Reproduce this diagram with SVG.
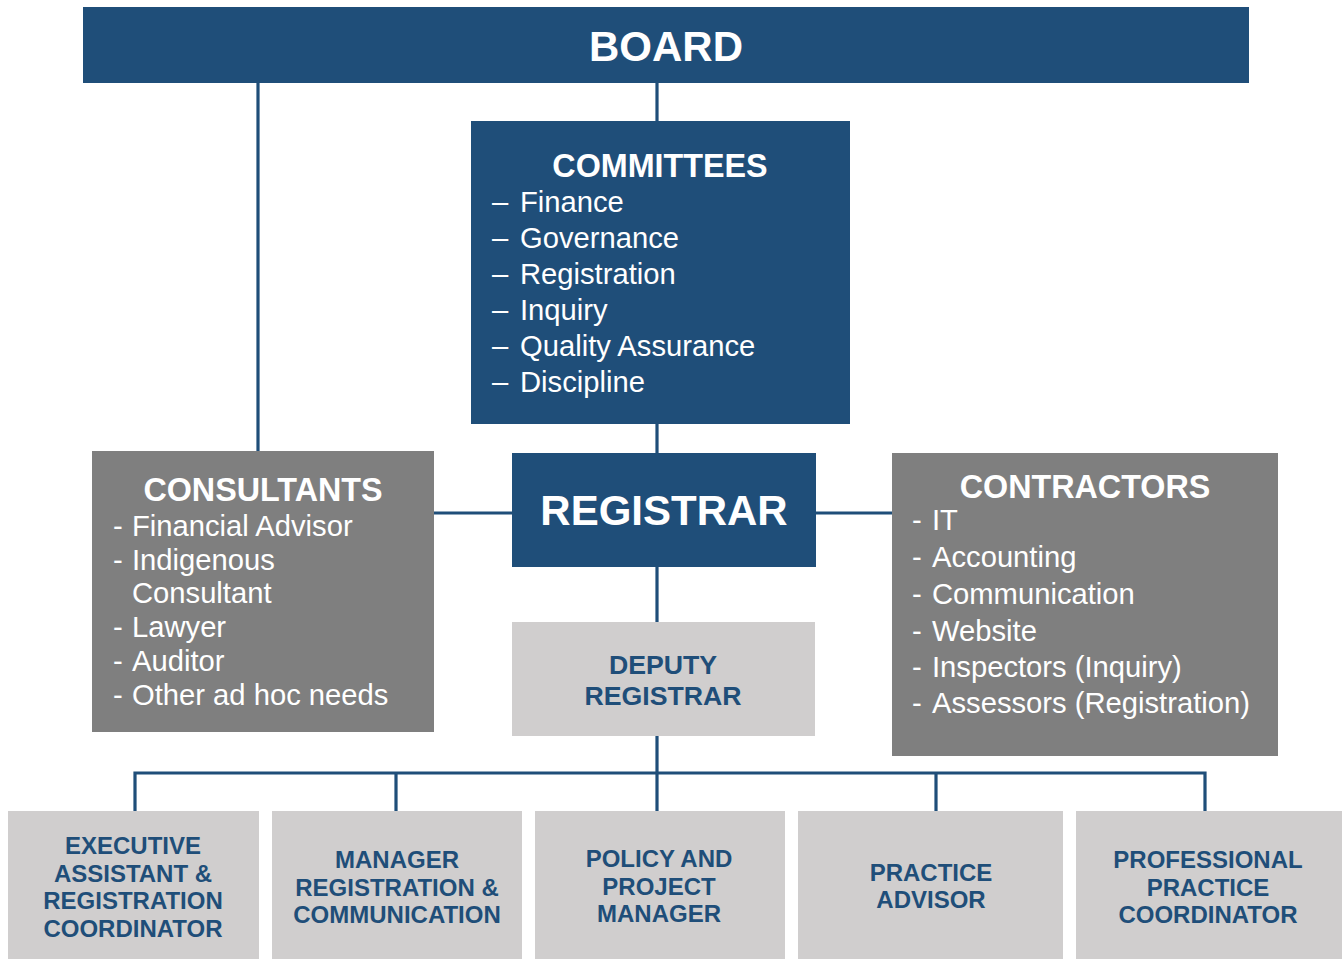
<svg xmlns="http://www.w3.org/2000/svg" width="1342" height="959" viewBox="0 0 1342 959">
  <style>
    text { font-family: "Liberation Sans", Arial, sans-serif; }
    .dark { fill: #1F4E79; }
    .mid { fill: #7F7F7F; }
    .light { fill: #D0CECE; }
    .title { fill: #FFFFFF; font-weight: bold; text-anchor: middle; }
    .head { font-size: 32.3px; }
    .item { fill: #FFFFFF; font-size: 29.2px; }
    .role { fill: #1F4E79; font-weight: bold; font-size: 24px; text-anchor: middle; }
    .role-lg { font-size: 26.7px; }
    .wire { stroke: #1F4E79; stroke-width: 3.2; fill: none; }
  </style>
  <rect width="1342" height="959" fill="#FFFFFF"/>

  <!-- reporting lines -->
  <g id="connectors" class="wire">
    <line x1="258" y1="83" x2="258" y2="451"/>
    <line x1="657" y1="83" x2="657" y2="121"/>
    <line x1="657" y1="424" x2="657" y2="453"/>
    <line x1="434" y1="513" x2="512" y2="513"/>
    <line x1="816" y1="513" x2="892" y2="513"/>
    <line x1="657" y1="567" x2="657" y2="622"/>
    <line x1="657" y1="736" x2="657" y2="811"/>
    <polyline points="135,811 135,773 1205,773 1205,811"/>
    <line x1="396" y1="773" x2="396" y2="811"/>
    <line x1="936" y1="773" x2="936" y2="811"/>
  </g>

  <g id="board">
    <rect class="dark" x="83" y="7" width="1166" height="76"/>
    <text class="title" x="666" y="61" font-size="42">BOARD</text>
  </g>

  <g id="committees">
    <rect class="dark" x="471" y="121" width="379" height="303"/>
    <text class="title head" x="660" y="177">COMMITTEES</text>
    <g class="item">
      <text x="492" y="212">–</text><text x="520" y="212">Finance</text>
      <text x="492" y="248">–</text><text x="520" y="248">Governance</text>
      <text x="492" y="284">–</text><text x="520" y="284">Registration</text>
      <text x="492" y="320">–</text><text x="520" y="320">Inquiry</text>
      <text x="492" y="356">–</text><text x="520" y="356">Quality Assurance</text>
      <text x="492" y="392">–</text><text x="520" y="392">Discipline</text>
    </g>
  </g>

  <g id="consultants">
    <rect class="mid" x="92" y="451" width="342" height="281"/>
    <text class="title head" x="263" y="501">CONSULTANTS</text>
    <g class="item">
      <text x="113" y="536">-</text><text x="132" y="536">Financial Advisor</text>
      <text x="113" y="570">-</text><text x="132" y="570">Indigenous</text>
      <text x="132" y="603">Consultant</text>
      <text x="113" y="637">-</text><text x="132" y="637">Lawyer</text>
      <text x="113" y="671">-</text><text x="132" y="671">Auditor</text>
      <text x="113" y="705">-</text><text x="132" y="705">Other ad hoc needs</text>
    </g>
  </g>

  <g id="registrar">
    <rect class="dark" x="512" y="453" width="304" height="114"/>
    <text class="title" x="664" y="525" font-size="42">REGISTRAR</text>
  </g>

  <g id="contractors">
    <rect class="mid" x="892" y="453" width="386" height="303"/>
    <text class="title head" x="1085" y="498">CONTRACTORS</text>
    <g class="item">
      <text x="912" y="530">-</text><text x="932" y="530">IT</text>
      <text x="912" y="567">-</text><text x="932" y="567">Accounting</text>
      <text x="912" y="604">-</text><text x="932" y="604">Communication</text>
      <text x="912" y="641">-</text><text x="932" y="641">Website</text>
      <text x="912" y="677">-</text><text x="932" y="677">Inspectors (Inquiry)</text>
      <text x="912" y="713">-</text><text x="932" y="713">Assessors (Registration)</text>
    </g>
  </g>

  <g id="deputy-registrar">
    <rect class="light" x="512" y="622" width="303" height="114"/>
    <text class="role role-lg" x="663" y="674">DEPUTY</text>
    <text class="role role-lg" x="663" y="705">REGISTRAR</text>
  </g>

  <g id="executive-assistant">
    <rect class="light" x="8" y="811" width="251" height="148"/>
    <text class="role" x="133" y="854">EXECUTIVE</text>
    <text class="role" x="133" y="882">ASSISTANT &amp;</text>
    <text class="role" x="133" y="909">REGISTRATION</text>
    <text class="role" x="133" y="937">COORDINATOR</text>
  </g>

  <g id="manager-registration">
    <rect class="light" x="272" y="811" width="250" height="148"/>
    <text class="role" x="397" y="868">MANAGER</text>
    <text class="role" x="397" y="896">REGISTRATION &amp;</text>
    <text class="role" x="397" y="923">COMMUNICATION</text>
  </g>

  <g id="policy-manager">
    <rect class="light" x="535" y="811" width="250" height="148"/>
    <text class="role" x="659" y="867">POLICY AND</text>
    <text class="role" x="659" y="895">PROJECT</text>
    <text class="role" x="659" y="922">MANAGER</text>
  </g>

  <g id="practice-advisor">
    <rect class="light" x="798" y="811" width="265" height="148"/>
    <text class="role" x="931" y="881">PRACTICE</text>
    <text class="role" x="931" y="908">ADVISOR</text>
  </g>

  <g id="practice-coordinator">
    <rect class="light" x="1076" y="811" width="266" height="148"/>
    <text class="role" x="1208" y="868">PROFESSIONAL</text>
    <text class="role" x="1208" y="896">PRACTICE</text>
    <text class="role" x="1208" y="923">COORDINATOR</text>
  </g>
</svg>
